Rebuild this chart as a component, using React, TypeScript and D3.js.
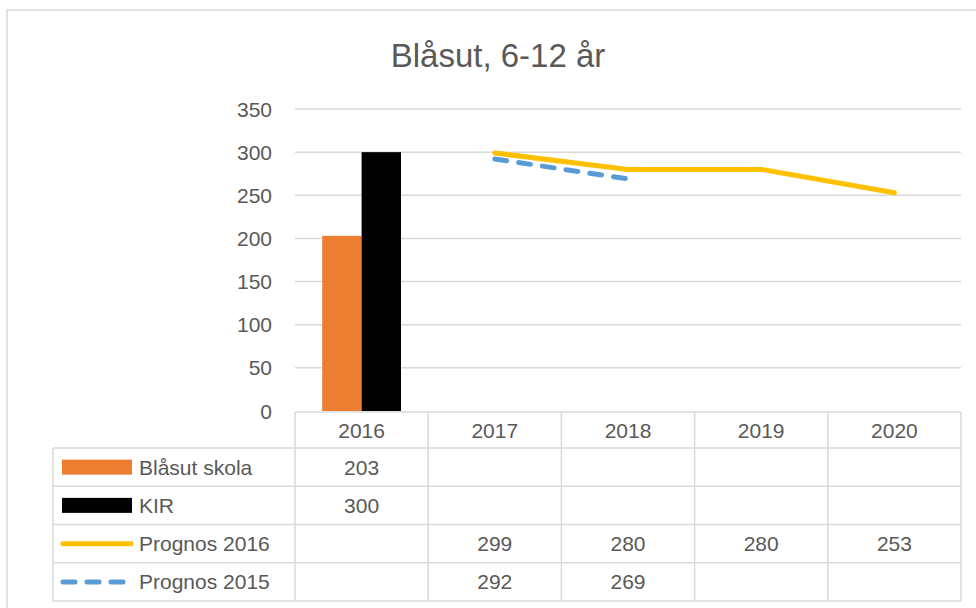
import * as d3 from "d3";

const categories = ["2016", "2017", "2018", "2019", "2020"];
const blasutSkola: (number | null)[] = [203, null, null, null, null];
const kir: (number | null)[] = [300, null, null, null, null];
const prognos2016: (number | null)[] = [null, 299, 280, 280, 253];
const prognos2015: (number | null)[] = [null, 292, 269, null, null];
const yTicks = [0, 50, 100, 150, 200, 250, 300, 350];

const barSeries = [
  { name: "Blåsut skola", values: blasutSkola, color: "#ED7D31" },
  { name: "KIR", values: kir, color: "#000000" },
];
const lineSeries = [
  { name: "Prognos 2016", values: prognos2016, color: "#FFC000", dash: null },
  { name: "Prognos 2015", values: prognos2015, color: "#5B9BD5", dash: "12 12" },
];

const W = 976, H = 608;
const FONT = "'Liberation Sans', Arial, sans-serif";
const TEXT = "#595959";
const GRID = "#D9D9D9";

export default function App() {
  const x = d3.scaleBand().domain(categories).range([295, 961]).padding(0);
  const y = d3.scaleLinear().domain([0, 350]).range([411, 109]);
  const xBar = d3.scaleBand().domain(barSeries.map(s => s.name))
    .range([0, x.bandwidth()]).paddingInner(0).paddingOuter(0.69);

  const rowNames = [...barSeries.map(s => s.name), ...lineSeries.map(s => s.name)];
  const rows = d3.scaleBand().domain(rowNames).range([448, 601]);
  const tableTop = 412, legendLeft = 53;

  const line = d3.line<[number, number | null]>()
    .defined(d => d[1] != null)
    .x(d => (x(categories[d[0]]) ?? 0) + x.bandwidth() / 2)
    .y(d => y(d[1] as number));

  const all = [...barSeries, ...lineSeries];

  return (
    <svg width={W} height={H} style={{ position: "absolute", left: 0, top: 0, background: "#fff" }}
      fontFamily={FONT}>
      <rect x={7} y={10} width={W + 10} height={H + 10} fill="#fff" stroke={GRID} strokeWidth={1.5} />
      <text x={498} y={67} textAnchor="middle" fontSize={33} fill={TEXT}>Blåsut, 6-12 år</text>

      {yTicks.map(t => (
        <g key={t}>
          {t > 0 && <line x1={295} x2={961} y1={y(t)} y2={y(t)} stroke={GRID} strokeWidth={1.5} />}
          <text x={272} y={y(t) + 7.5} textAnchor="end" fontSize={21} fill={TEXT}>{t}</text>
        </g>
      ))}

      {barSeries.map(s => s.values.map((v, i) => v == null ? null : (
        <rect key={s.name + i} x={(x(categories[i]) ?? 0) + (xBar(s.name) ?? 0)} width={xBar.bandwidth()}
          y={y(v)} height={y(0) - y(v)} fill={s.color} />
      )))}

      {lineSeries.map(s => (
        <path key={s.name} d={line(s.values.map((v, i) => [i, v] as [number, number | null])) ?? ""}
          fill="none" stroke={s.color} strokeWidth={5} strokeLinecap="round"
          strokeLinejoin="round" strokeDasharray={s.dash ?? undefined} />
      ))}

      {/* data table */}
      <g stroke={GRID} strokeWidth={1.5}>
        <line x1={295} x2={961} y1={tableTop} y2={tableTop} />
        {rowNames.map(r => (
          <line key={r} x1={legendLeft} x2={961} y1={rows(r)} y2={rows(r)} />
        ))}
        <line x1={legendLeft} x2={961} y1={601} y2={601} />
        <line x1={legendLeft} x2={legendLeft} y1={448} y2={601} />
        {categories.map(c => (
          <line key={c} x1={x(c)} x2={x(c)} y1={tableTop} y2={601} />
        ))}
        <line x1={961} x2={961} y1={tableTop} y2={601} />
      </g>

      {categories.map(c => (
        <text key={c} x={(x(c) ?? 0) + x.bandwidth() / 2} y={(tableTop + 448) / 2 + 7.5}
          textAnchor="middle" fontSize={21} fill={TEXT}>{c}</text>
      ))}

      {all.map(s => {
        const cy = (rows(s.name) ?? 0) + rows.bandwidth() / 2;
        const isLine = "dash" in s;
        return (
          <g key={s.name}>
            {isLine ? (
              <line x1={63} x2={131} y1={cy} y2={cy} stroke={s.color} strokeWidth={5}
                strokeLinecap="round" strokeDasharray={(s as any).dash ?? undefined} />
            ) : (
              <rect x={62} y={cy - 7.5} width={70} height={15} fill={s.color} />
            )}
            <text x={139} y={cy + 7.5} fontSize={21} fill={TEXT}>{s.name}</text>
            {s.values.map((v, i) => v == null ? null : (
              <text key={i} x={(x(categories[i]) ?? 0) + x.bandwidth() / 2} y={cy + 7.5}
                textAnchor="middle" fontSize={21} fill={TEXT}>{v}</text>
            ))}
          </g>
        );
      })}
    </svg>
  );
}
